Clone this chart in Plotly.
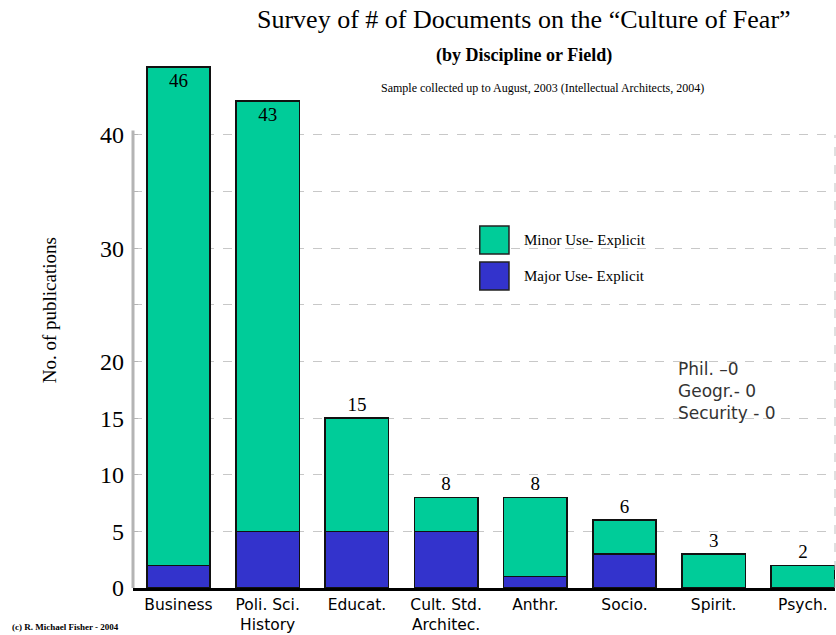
import plotly.graph_objects as go

categories = ["Business", "Poli. Sci.<br>History", "Educat.", "Cult. Std.<br>Architec.",
              "Anthr.", "Socio.", "Spirit.", "Psych."]
major_use = [2, 5, 5, 5, 1, 3, 0, 0]
minor_use = [44, 38, 10, 3, 7, 3, 3, 2]
totals = [a + b for a, b in zip(major_use, minor_use)]
label_pos = ["inside", "inside", "outside", "outside", "outside", "outside", "outside", "outside"]
tick_vals = [0, 5, 10, 15, 20, 25, 30, 35, 40]
tick_text = ["0", "5", "10", "15", "20", "", "30", "", "40"]

GREEN = "#00CC99"
BLUE = "#3333CC"
SERIF = "Liberation Serif, Times New Roman, serif"
SANS = "DejaVu Sans, Verdana, sans-serif"

fig = go.Figure()
fig.add_trace(go.Bar(x=categories, y=major_use, name="Major Use- Explicit",
                     marker=dict(color=BLUE, line=dict(color="#111", width=1.5)),
                     width=0.71, showlegend=False))
fig.add_trace(go.Bar(x=categories, y=minor_use, name="Minor Use- Explicit",
                     marker=dict(color=GREEN, line=dict(color="#111", width=1.5)),
                     width=0.71, showlegend=False,
                     text=[str(t) for t in totals], textposition=label_pos,
                     insidetextanchor="end", constraintext="none", cliponaxis=False,
                     textfont=dict(family=SERIF, size=19, color="black")))

ann = []
ann.append(dict(text="Survey of # of Documents on the \u201cCulture of Fear\u201d", x=0.557, y=1.0558,
                xref="paper", yref="paper", yanchor="middle", showarrow=False,
                font=dict(family=SERIF, size=26, color="black")))
ann.append(dict(text="<b>(by Discipline or Field)</b>", x=0.557, y=0.9907,
                xref="paper", yref="paper", yanchor="middle", showarrow=False,
                font=dict(family=SERIF, size=18, color="black")))
ann.append(dict(text="Sample collected up to August, 2003 (Intellectual Architects, 2004)",
                x=0.584, y=0.9294, xref="paper", yref="paper", yanchor="middle", showarrow=False,
                font=dict(family=SERIF, size=12, color="black")))
ann.append(dict(text="No. of publications", x=-0.1368, y=0.517, xref="paper", yref="paper",
                yanchor="middle", textangle=-90, showarrow=False,
                font=dict(family=SERIF, size=19, color="black")))
ann.append(dict(text="<b>(c) R. Michael Fisher - 2004</b>", x=-0.175, y=-0.0725,
                xref="paper", yref="paper", xanchor="left", yanchor="middle", showarrow=False,
                font=dict(family=SERIF, size=9, color="black")))
ann.append(dict(text="Phil. \u20130<br>Geogr.- 0<br>Security - 0", x=0.773, y=0.366,
                xref="paper", yref="paper", xanchor="left", yanchor="middle", align="left",
                showarrow=False, font=dict(family=SANS, size=17, color="#333333")))
ann.append(dict(text="Minor Use- Explicit", x=0.554, y=0.6468, xref="paper", yref="paper",
                xanchor="left", yanchor="middle", showarrow=False,
                font=dict(family=SERIF, size=15, color="black")))
ann.append(dict(text="Major Use- Explicit", x=0.554, y=0.58, xref="paper", yref="paper",
                xanchor="left", yanchor="middle", showarrow=False,
                font=dict(family=SERIF, size=15, color="black")))

shapes = [
    dict(type="rect", xref="paper", yref="paper", x0=0.494, x1=0.5356, y0=0.6208, y1=0.6729,
         fillcolor=GREEN, line=dict(color="#222", width=1.5)),
    dict(type="rect", xref="paper", yref="paper", x0=0.494, x1=0.5356, y0=0.5539, y1=0.606,
         fillcolor=BLUE, line=dict(color="#222", width=1.5)),
    dict(type="line", xref="paper", yref="y", x0=0, x1=0, y0=0, y1=40.4,
         line=dict(color="#b4b4b4", width=3)),
    dict(type="line", xref="paper", yref="y", x0=1, x1=1, y0=0, y1=40,
         line=dict(color="#c0c0c0", width=1, dash="dash")),
]

fig.update_layout(
    barmode="stack",
    width=836, height=635,
    margin=dict(l=133, r=1, t=50, b=47),
    paper_bgcolor="white", plot_bgcolor="white",
    annotations=ann, shapes=shapes,
    xaxis=dict(range=[-0.51, 7.36], showgrid=False, showline=True, linecolor="black",
               linewidth=3, ticks="", automargin=False,
               tickfont=dict(family=SANS, size=15.5, color="black"), tickangle=0),
    yaxis=dict(range=[0, 47.5], tickmode="array", tickvals=tick_vals, ticktext=tick_text,
               showgrid=True, gridcolor="#c8c8c8", griddash="dash", gridwidth=1,
               showline=False, zeroline=False, ticks="inside", ticklen=5, tickcolor="#b4b4b4",
               ticklabelstandoff=8, automargin=False,
               tickfont=dict(family=SERIF, size=24, color="black")),
)

fig.write_html("out.html")
